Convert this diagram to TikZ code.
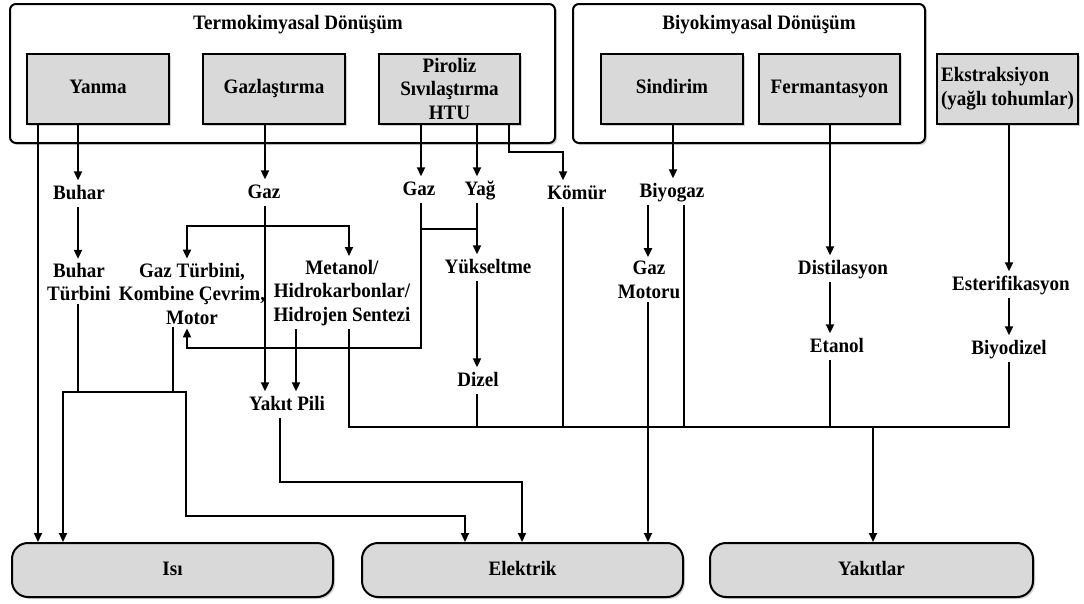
\documentclass[tikz,border=0pt]{standalone}
\usepackage{fontspec}
\setmainfont{Liberation Serif}[FakeStretch=0.93]
\usetikzlibrary{arrows.meta,shadows}
\definecolor{boxgray}{RGB}{217,217,217}
\begin{document}
\begin{tikzpicture}[x=1pt,y=-1pt,
  every node/.style={font=\fontsize{20.5}{23.5}\selectfont\bfseries},
  boxshadow/.style={drop shadow={shadow xshift=2pt,shadow yshift=-2pt,opacity=0.35}},
  group/.style={draw,line width=2pt,rounded corners=6pt,fill=white,boxshadow,inner sep=0pt},
  proc/.style={draw,line width=2pt,fill=boxgray,boxshadow,inner sep=0pt,minimum width=141pt,minimum height=70pt,align=center},
  proc1/.style={proc,text height=14pt,text depth=4pt},
  sink/.style={draw,line width=2pt,fill=boxgray,boxshadow,rounded corners=16pt,minimum width=321pt,minimum height=54pt,text height=14pt,text depth=4pt},
  lbl/.style={inner xsep=2pt,inner ysep=4.5pt,text height=14pt,text depth=4pt},
  mlbl/.style={inner xsep=2pt,inner ysep=4pt,align=center},
  wire/.style={line width=2pt,line cap=rect},
  arr/.style={wire,-{Triangle[length=9pt,width=8pt]}}]

\useasboundingbox (0,0) rectangle (1084,603);

% conversion groups
\node[group,minimum width=545pt,minimum height=139pt] (termo) at (282.5,73.5) {};
\node (termoT) at (298,25) {Termokimyasal Dönüşüm};
\node[group,minimum width=352pt,minimum height=139pt] (biyo) at (749,73.5) {};
\node (biyoT) at (759,25) {Biyokimyasal Dönüşüm};

% processes
\node[proc1,minimum width=142pt] (yanma) at (98,88.5) {Yanma};
\node[proc1,minimum width=142pt] (gazl) at (274,88.5) {Gazlaştırma};
\node[proc] (piroliz) at (449.5,88.5) {Piroliz\\Sıvılaştırma\\HTU};
\node[proc1,minimum width=142pt] (sindirim) at (672,88.5) {Sindirim};
\node[proc1] (ferm) at (829.5,88.5) {Fermantasyon};
\node[proc,align=left] (ekstr) at (1007.5,88.5) {Ekstraksiyon\\(yağlı tohumlar)};

% end uses
\node[sink] (isi) at (172.5,570) {Isı};
\node[sink] (elektrik) at (522.5,570) {Elektrik};
\node[sink,minimum width=323pt] (yakitlar) at (871.5,570) {Yakıtlar};

% intermediate products and steps
\node[lbl] (buhar) at (79,194) {Buhar};
\node[mlbl] (buharT) at (79,282) {Buhar\\Türbini};
\node[lbl] (gaz1) at (264,193) {Gaz};
\node[mlbl] (gazturb) at (192,293.5) {Gaz Türbini,\\Kombine Çevrim,\\Motor};
\node[mlbl] (metanol) at (342,293) {Metanol/\\Hidrokarbonlar/\\Hidrojen Sentezi};
\node[lbl] (gaz2) at (419,190) {Gaz};
\node[lbl] (yag) at (480,190) {Yağ};
\node[lbl] (komur) at (577,194) {Kömür};
\node[lbl] (yukseltme) at (488,268) {Yükseltme};
\node[lbl] (dizel) at (478,381) {Dizel};
\node[lbl] (yakitpili) at (287,405) {Yakıt Pili};
\node[lbl] (biyogaz) at (672,192) {Biyogaz};
\node[mlbl] (gazmotoru) at (649,280) {Gaz\\Motoru};
\node[lbl] (distil) at (843,269) {Distilasyon};
\node[lbl] (etanol) at (837,347) {Etanol};
\node[lbl] (esterif) at (1011,285) {Esterifikasyon};
\node[lbl] (biyodizel) at (1009,349) {Biyodizel};

% columns of the vertical wires
\coordinate (xHeat) at (38,0);
\coordinate (xSteam) at (78,0);
\coordinate (xMotor) at (173,0);
\coordinate (xTurbine) at (187,0);
\coordinate (xGas) at (265,0);
\coordinate (xCell) at (280,0);
\coordinate (xSynthCell) at (296,0);
\coordinate (xSynth) at (349,0);
\coordinate (xPyGas) at (421,0);
\coordinate (xOil) at (477,0);
\coordinate (xChar) at (509,0);
\coordinate (xEngine) at (648,0);
\coordinate (xDig) at (673,0);
\coordinate (xBiogasFuel) at (684,0);
\coordinate (xEthanol) at (830,0);
\coordinate (xFuels) at (873,0);
\coordinate (xBiodiesel) at (1009,0);

% bends and junctions
\coordinate (charBend) at (563,152);
\coordinate (gasSplit) at (265,226);
\coordinate (pyJoin) at (421,229);
\coordinate (motorRet) at (187,348);
\coordinate (turbL) at (63,392);
\coordinate (turbR) at (186,392);
\coordinate (busL) at (349,427);
\coordinate (busR) at (1009,427);
\coordinate (cellElec) at (522,482);
\coordinate (turbElec) at (465,516);

% combustion
\draw[arr] (yanma.south -| xHeat) -- (isi.north -| xHeat);
\draw[arr] (yanma.south -| xSteam) -- (buhar.north -| xSteam);
\draw[arr] (buhar.south -| xSteam) -- (buharT.north -| xSteam);
\draw[wire] (buharT.south -| xSteam) -- (turbL -| xSteam);
\draw[wire] (gazturb.south -| xMotor) -- (turbL -| xMotor);
\draw[wire] (turbL) -- (turbR);
\draw[arr] (turbL) -- (turbL |- isi.north);
\draw[arr] (turbR) |- (turbElec) -- (turbElec |- elektrik.north);

% gasification
\draw[arr] (gazl.south -| xGas) -- (gaz1.north -| xGas);
\draw[arr] (gaz1.south -| xGas) -- (yakitpili.north -| xGas);
\draw[arr] (gasSplit) -| (gazturb.north -| xTurbine);
\draw[arr] (gasSplit) -| (metanol.north -| xSynth);
\draw[arr] (metanol.south -| xSynthCell) -- (yakitpili.north -| xSynthCell);
\draw[wire] (metanol.south -| xSynth) |- (busR) -- (biyodizel.south -| busR);
\draw[arr] (yakitpili.south -| xCell) |- (cellElec) -- (cellElec |- elektrik.north);

% pyrolysis
\draw[arr] (piroliz.south -| xPyGas) -- (gaz2.north -| xPyGas);
\draw[arr] (gaz2.south -| xPyGas) |- (motorRet) -- (gazturb.south -| motorRet);
\draw[wire] (pyJoin) -- (pyJoin -| xOil);
\draw[arr] (piroliz.south -| xOil) -- (yag.north -| xOil);
\draw[arr] (yag.south -| xOil) -- (yukseltme.north -| xOil);
\draw[arr] (yukseltme.south -| xOil) -- (dizel.north -| xOil);
\draw[wire] (dizel.south -| xOil) -- (busL -| xOil);
\draw[arr] (piroliz.south -| xChar) |- (charBend) -- (komur.north -| charBend);
\draw[wire] (komur.south -| charBend) -- (busL -| charBend);

% digestion
\draw[arr] (sindirim.south -| xDig) -- (biyogaz.north -| xDig);
\draw[arr] (biyogaz.south -| xEngine) -- (gazmotoru.north -| xEngine);
\draw[arr] (gazmotoru.south -| xEngine) -- (elektrik.north -| xEngine);
\draw[wire] (biyogaz.south -| xBiogasFuel) -- (busL -| xBiogasFuel);

% fermentation
\draw[arr] (ferm.south -| xEthanol) -- (distil.north -| xEthanol);
\draw[arr] (distil.south -| xEthanol) -- (etanol.north -| xEthanol);
\draw[wire] (etanol.south -| xEthanol) -- (busL -| xEthanol);

% extraction
\draw[arr] (ekstr.south -| xBiodiesel) -- (esterif.north -| xBiodiesel);
\draw[arr] (esterif.south -| xBiodiesel) -- (biyodizel.north -| xBiodiesel);

% fuels
\draw[arr] (busL -| xFuels) -- (yakitlar.north -| xFuels);
\end{tikzpicture}
\end{document}
